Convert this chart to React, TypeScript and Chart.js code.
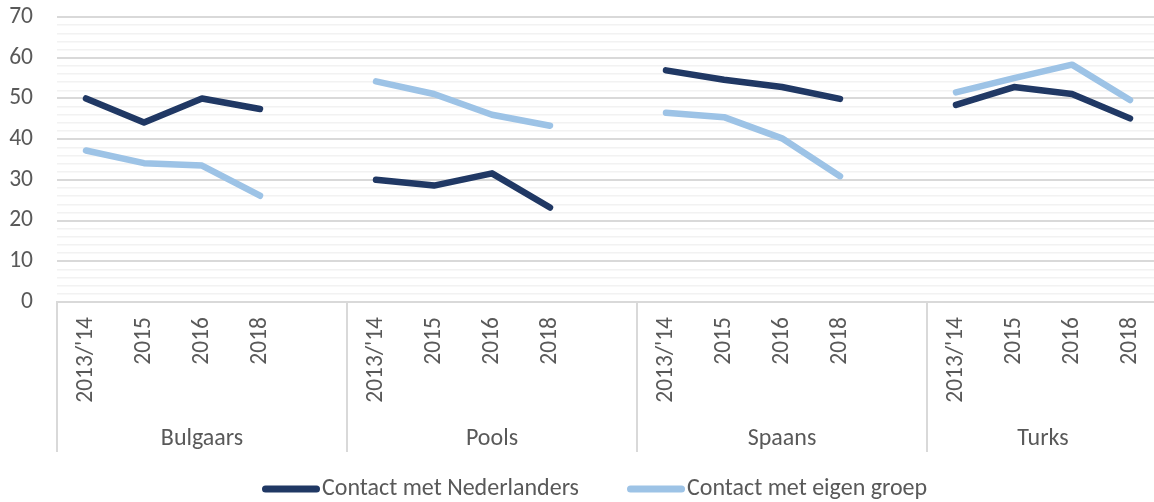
import React, { useEffect, useRef } from "react";
import { Chart, registerables } from "chart.js";

Chart.register(...registerables);

// ---- Data ----
const groups = ["Bulgaars", "Pools", "Spaans", "Turks"];
const years = ["2013/'14", "2015", "2016", "2018"];

// null marks the empty spacer slot between groups
const nederlanders = [50, 44.1, 50, 47.4, null, 30, 28.6, 31.6, 23.2, null, 56.9, 54.6, 52.8, 49.9, null, 48.4, 52.8, 51.1, 45.1];
const eigenGroep = [37.2, 34.1, 33.5, 26.1, null, 54.2, 51.1, 46, 43.3, null, 46.5, 45.4, 40.2, 30.9, null, 51.5, 55, 58.3, 49.6];

const seriesNames = ["Contact met Nederlanders", "Contact met eigen groep"];
const seriesColors = ["#203864", "#9DC3E6"];

const yMin = 0;
const yMax = 70;
const yStep = 2;
const yLabelStep = 10;

// category labels: years per group, blank spacer between groups
const categories: string[] = [];
const groupStarts: number[] = [];
const groupSizes: number[] = [];
groups.forEach((g, gi) => {
  groupStarts.push(categories.length);
  years.forEach((y) => categories.push(y));
  if (gi < groups.length - 1) {
    categories.push("");
    groupSizes.push(years.length + 1);
  } else {
    groupSizes.push(years.length);
  }
});

const FONT = "Carlito, Lato, 'Noto Sans', sans-serif";
const TEXT = "#595959";
const TICK_SIZE = 23.5;
const LABEL_SIZE = 24;

const groupAxisPlugin = {
  id: "groupAxis",
  afterDraw(chart: any) {
    const ctx = chart.ctx;
    const xs = chart.scales.x;
    const slot = xs.getPixelForValue(1) - xs.getPixelForValue(0);
    const top = chart.chartArea.bottom;
    ctx.save();
    ctx.strokeStyle = "#D9D9D9";
    ctx.lineWidth = 2;
    groups.forEach((g, gi) => {
      const x0 = xs.getPixelForValue(groupStarts[gi]) - slot / 2;
      const x1 = x0 + slot * groupSizes[gi];
      ctx.beginPath();
      ctx.moveTo(Math.round(x0), top);
      ctx.lineTo(Math.round(x0), top + 150);
      ctx.stroke();
      ctx.fillStyle = TEXT;
      ctx.font = `${LABEL_SIZE}px ${FONT}`;
      ctx.textAlign = "center";
      ctx.textBaseline = "middle";
      ctx.fillText(g, (x0 + x1) / 2, top + 137);
    });

    // legend
    ctx.font = `${LABEL_SIZE}px ${FONT}`;
    ctx.textBaseline = "middle";
    ctx.textAlign = "left";
    const ly = 489;
    const lineLen = 51;
    const lw = 7;
    let x = 262;
    seriesNames.forEach((name, i) => {
      ctx.strokeStyle = seriesColors[i];
      ctx.lineWidth = lw;
      ctx.lineCap = "round";
      ctx.beginPath();
      ctx.moveTo(x + lw / 2, ly);
      ctx.lineTo(x + lw / 2 + lineLen, ly);
      ctx.stroke();
      const tx = x + lineLen + lw + 2;
      ctx.fillStyle = TEXT;
      ctx.fillText(name, tx, ly);
      x = tx + ctx.measureText(name).width + 48;
    });
    ctx.restore();
  },
};

export default function App() {
  const ref = useRef<HTMLCanvasElement>(null);
  useEffect(() => {
    if (!ref.current) return;
    const chart = new Chart(ref.current, {
      type: "line",
      data: {
        labels: categories,
        datasets: [
          {
            label: seriesNames[0],
            data: nederlanders,
            borderColor: seriesColors[0],
            backgroundColor: seriesColors[0],
            borderWidth: 6.5,
            borderCapStyle: "round",
            borderJoinStyle: "round",
            pointRadius: 0,
            tension: 0,
            spanGaps: false,
          },
          {
            label: seriesNames[1],
            data: eigenGroep,
            borderColor: seriesColors[1],
            backgroundColor: seriesColors[1],
            borderWidth: 6.5,
            borderCapStyle: "round",
            borderJoinStyle: "round",
            pointRadius: 0,
            tension: 0,
            spanGaps: false,
          },
        ],
      },
      options: {
        responsive: false,
        animation: false,
        layout: { autoPadding: false, padding: { top: 17, right: 1, bottom: 0, left: 0 } },
        plugins: {
          legend: { display: false },
          tooltip: { enabled: false },
        },
        scales: {
          x: {
            type: "category",
            offset: true,
            grid: { display: false, drawTicks: false },
            border: { display: true, color: "#D9D9D9", width: 2 },
            ticks: {
              autoSkip: false,
              minRotation: 90,
              maxRotation: 90,
              padding: 15,
              color: TEXT,
              font: { family: FONT, size: TICK_SIZE },
            },
            afterFit: (s: any) => {
              s.height = 200;
              s.paddingLeft = 0;
              s.paddingRight = 0;
              s.paddingTop = 0;
              s.paddingBottom = 0;
            },
          },
          y: {
            min: yMin,
            max: yMax,
            grid: {
              drawTicks: false,
              color: (c: any) => (c.tick && c.tick.value % yLabelStep === 0 ? "#D9D9D9" : "#F2F2F2"),
              lineWidth: (c: any) => (c.tick && c.tick.value % yLabelStep === 0 ? 2 : 1.5),
            },
            border: { display: false },
            ticks: {
              stepSize: yStep,
              autoSkip: false,
              padding: 24,
              color: TEXT,
              font: { family: FONT, size: TICK_SIZE },
              callback: (v: any) => (Number(v) % yLabelStep === 0 ? String(v) : ""),
            },
            afterFit: (s: any) => {
              s.width = 57;
              s.paddingLeft = 0;
              s.paddingRight = 0;
              s.paddingTop = 0;
              s.paddingBottom = 0;
            },
          },
        },
      },
      plugins: [groupAxisPlugin],
    });
    return () => chart.destroy();
  }, []);
  return (
    <div style={{ position: "fixed", left: 0, top: 0, width: 1160, height: 502, overflow: "hidden" }}>
      <canvas ref={ref} width={1160} height={502} style={{ display: "block" }} />
    </div>
  );
}
